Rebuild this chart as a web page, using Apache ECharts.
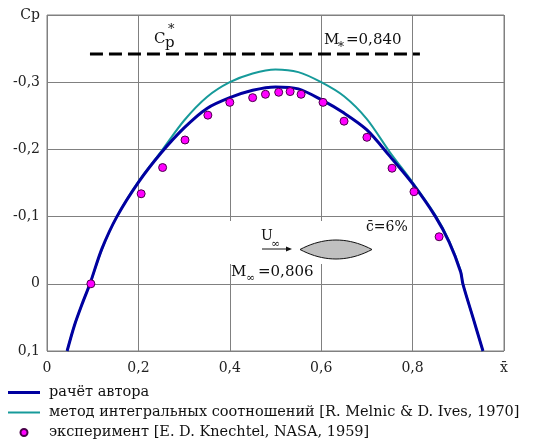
<!DOCTYPE html>
<html>
<head>
<meta charset="utf-8">
<script src="https://cdn.jsdelivr.net/npm/echarts@6/dist/echarts.min.js"></script>
<style>
    html, body { margin: 0; padding: 0; background: #fff; }
    #chart { width: 553px; height: 445px; }
</style>
</head>
<body>
<div id="chart"></div>
<script>
// values: [x, Cp]
const authorCalc = [
    [0.044, 0.1], [0.06, 0.062], [0.078, 0.028], [0.094, 0.0], [0.12, -0.052],
    [0.153, -0.1], [0.2, -0.151], [0.25, -0.195], [0.3, -0.232], [0.35, -0.261],
    [0.4, -0.277], [0.45, -0.288], [0.5, -0.293], [0.55, -0.29], [0.6, -0.274],
    [0.65, -0.254], [0.7, -0.229], [0.75, -0.19], [0.8, -0.149], [0.85, -0.1],
    [0.88, -0.062], [0.905, -0.018], [0.91, 0.0], [0.932, 0.05], [0.954, 0.1]
];

const integralMethod = [
    [0.044, 0.1], [0.06, 0.062], [0.078, 0.028], [0.094, 0.0], [0.12, -0.051],
    [0.153, -0.1], [0.2, -0.152], [0.25, -0.197], [0.3, -0.243], [0.35, -0.278],
    [0.4, -0.3], [0.45, -0.313], [0.5, -0.319], [0.55, -0.315], [0.6, -0.3],
    [0.65, -0.279], [0.7, -0.245], [0.75, -0.196], [0.8, -0.151], [0.85, -0.102],
    [0.88, -0.064], [0.905, -0.02], [0.91, 0.0], [0.932, 0.05], [0.954, 0.1]
];

const experiment = [
    [0.096, 0.0], [0.206, -0.134], [0.253, -0.173], [0.302, -0.214], [0.352, -0.251],
    [0.4, -0.27], [0.45, -0.277], [0.478, -0.282], [0.507, -0.285], [0.532, -0.286],
    [0.556, -0.282], [0.604, -0.27], [0.65, -0.242], [0.7, -0.218], [0.755, -0.172],
    [0.803, -0.137], [0.858, -0.07]
];

// critical pressure coefficient line
const cpStar = -0.342;
const cpStarRange = [0.094, 0.816];

const seriesNames = [
    'рачёт автора',
    'метод интегральных соотношений [R. Melnic & D. Ives, 1970]',
    'эксперимент [E. D. Knechtel, NASA, 1959]'
];

const serif = 'DejaVu Serif';

const fmt = v => {
    const r = Math.round(v * 10) / 10;
    if (r === 0) return '0';
    return r.toFixed(1).replace('.', ',');
};

function txt(x, y, text, size, bg) {
    const style = {
        text,
        font: `${size}px "${serif}"`,
        fill: '#111',
        verticalAlign: 'middle'
    };
    if (bg) style.backgroundColor = '#fff';
    return { type: 'text', x, y, z: 5, style };
}

// biconvex airfoil outline
const lens = [];
for (let i = 0; i <= 20; i++) {
    const t = i / 20;
    lens.push([t * 72, -9.5 * 4 * t * (1 - t)]);
}
for (let i = 19; i > 0; i--) {
    const t = i / 20;
    lens.push([t * 72, 9.5 * 4 * t * (1 - t)]);
}

const chart = echarts.init(document.getElementById('chart'));

chart.setOption({
    animation: false,
    backgroundColor: '#fff',
    grid: {
        left: 47,
        right: 49,
        top: 15,
        bottom: 94,
        show: true,
        borderColor: '#808080',
        borderWidth: 1
    },
    xAxis: {
        type: 'value',
        min: 0,
        max: 1,
        interval: 0.2,
        axisLine: { show: false },
        axisTick: { show: false },
        splitLine: { lineStyle: { color: '#808080', width: 1 } },
        axisLabel: {
            margin: 10,
            color: '#222',
            fontFamily: serif,
            fontSize: 14,
            formatter: v => (v >= 0.99 ? 'x\u0304' : fmt(v))
        }
    },
    yAxis: {
        type: 'value',
        inverse: true,
        min: -0.4,
        max: 0.1,
        interval: 0.1,
        axisLine: { show: false },
        axisTick: { show: false },
        splitLine: { lineStyle: { color: '#808080', width: 1 } },
        axisLabel: {
            margin: 7,
            color: '#222',
            fontFamily: serif,
            fontSize: 14,
            formatter: v => (v <= -0.39 ? 'Cp' : fmt(v))
        }
    },
    legend: {
        orient: 'vertical',
        left: 8,
        top: 385,
        height: 70,
        padding: 0,
        itemWidth: 32,
        itemHeight: 7,
        itemGap: 5,
        textStyle: { fontFamily: serif, fontSize: 14.5, color: '#111', padding: [0, 0, 0, 4] },
        data: [
            { name: seriesNames[0], icon: 'path://M0,0H32V3H0Z' },
            { name: seriesNames[1], icon: 'path://M0,0H32V2H0Z' },
            { name: seriesNames[2], icon: 'circle' }
        ]
    },
    series: [
        {
            name: seriesNames[1],
            type: 'line',
            data: integralMethod,
            smooth: 0.3,
            symbol: 'none',
            z: 3,
            lineStyle: { color: '#169a9a', width: 2 },
            itemStyle: { color: '#169a9a' }
        },
        {
            name: seriesNames[0],
            type: 'line',
            data: authorCalc,
            smooth: 0.3,
            symbol: 'none',
            z: 4,
            lineStyle: { color: '#0000a0', width: 3 },
            itemStyle: { color: '#0000a0' }
        },
        {
            name: seriesNames[2],
            type: 'scatter',
            data: experiment,
            symbol: 'circle',
            symbolSize: 8,
            z: 5,
            itemStyle: { color: '#ff00ff', borderColor: '#4a004a', borderWidth: 1, opacity: 1 }
        },
        {
            name: 'Cp*',
            type: 'line',
            data: [[cpStarRange[0], cpStar], [cpStarRange[1], cpStar]],
            symbol: 'none',
            z: 3,
            lineStyle: { color: '#000', width: 3, type: [13, 6] }
        }
    ],
    graphic: [
        // white patch behind the flow annotation
        { type: 'rect', z: 1, shape: { x: 228, y: 221, width: 180, height: 43 }, style: { fill: '#fff' } },
        // C*p
        txt(154, 39, 'C', 15),
        txt(165, 43, 'p', 15),
        txt(168, 30, '*', 13),
        // M*=0,840
        txt(324, 40, 'M', 15),
        txt(338, 48, '*', 12),
        txt(346, 40, '=0,840', 15),
        // U∞ with arrow
        txt(261, 236, 'U', 14),
        txt(271, 244, '∞', 11),
        { type: 'line', z: 5, shape: { x1: 262, y1: 249, x2: 289, y2: 249 }, style: { stroke: '#111', lineWidth: 1 } },
        { type: 'polygon', z: 5, shape: { points: [[292, 249], [286, 246.5], [286, 251.5]] }, style: { fill: '#111' } },
        // airfoil
        { type: 'polygon', z: 5, x: 300, y: 249.5, shape: { points: lens }, style: { fill: '#c0c0c0', stroke: '#111', lineWidth: 1 } },
        // c̄=6%
        txt(366, 227, 'c\u0304=6%', 14),
        // M∞=0,806
        txt(231, 272, 'M', 15, true),
        txt(246, 278, '∞', 11),
        txt(258, 272, '=0,806', 15)
    ]
});
</script>
</body>
</html>
